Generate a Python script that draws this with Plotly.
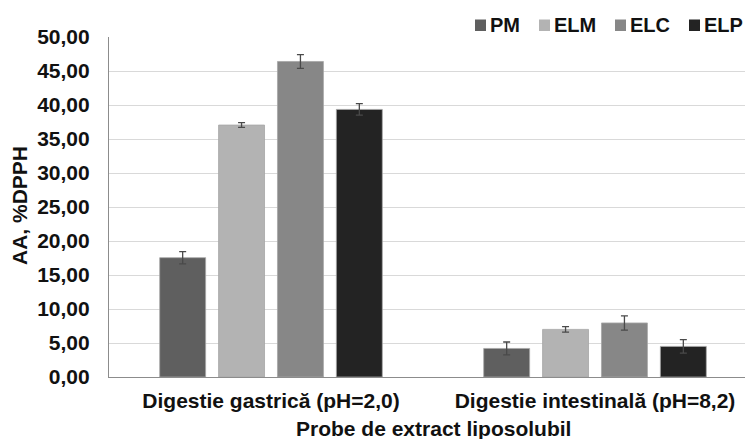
import plotly.graph_objects as go

categories = ["Digestie gastrică (pH=2,0)", "Digestie intestinală (pH=8,2)"]
series_names = ["PM", "ELM", "ELC", "ELP"]
pm = [17.55, 4.2]
elm = [37.05, 7.0]
elc = [46.4, 7.95]
elp = [39.35, 4.5]
pm_err = [0.9, 0.95]
elm_err = [0.35, 0.4]
elc_err = [1.0, 1.05]
elp_err = [0.85, 1.0]
colors = ["#5f5f5f", "#b3b3b3", "#878787", "#232323"]
y_ticks = [0, 5, 10, 15, 20, 25, 30, 35, 40, 45, 50]
y_tick_labels = ["0,00", "5,00", "10,00", "15,00", "20,00", "25,00", "30,00", "35,00", "40,00", "45,00", "50,00"]

values = [pm, elm, elc, elp]
errors = [pm_err, elm_err, elc_err, elp_err]

W, H = 745, 439
L, R, T, B = 109, 0, 37, 62
PW, PH = W - L - R, H - T - B

fig = go.Figure()
for name, v, e, c in zip(series_names, values, errors, colors):
    fig.add_trace(go.Bar(
        name=name, x=[0, 1], y=v,
        marker=dict(color=c, line=dict(color="#a6a6a6", width=0.8)),
        error_y=dict(type="data", array=e, visible=True, color="#4a4a4a", thickness=1.3, width=3.5),
        showlegend=False,
    ))

font = "Liberation Sans, Arial, sans-serif"
FS = 21
fig.update_layout(
    width=W, height=H,
    margin=dict(l=L, r=R, t=T, b=B, autoexpand=False),
    paper_bgcolor="white", plot_bgcolor="white",
    barmode="group", bargap=0.273, bargroupgap=0.22,
    font=dict(family=font, size=FS, color="#111111"),
    showlegend=False,
    xaxis=dict(range=[-0.5, -0.5 + PW / 324], tickmode="array", tickvals=[0, 1],
               ticktext=["<b>%s</b>" % c for c in categories],
               showline=True, linecolor="#8c8c8c", linewidth=1.2, ticks="",
               tickfont=dict(size=FS, family=font, color="#111111"), showgrid=False,
               zeroline=False, ticklabelstandoff=5),
    yaxis=dict(range=[0, 50], tickmode="array", tickvals=y_ticks,
               ticktext=["<b>%s</b>" % t for t in y_tick_labels],
               showline=True, linecolor="#8c8c8c", linewidth=1.2, ticks="",
               gridcolor="#d9d9d9", gridwidth=1.2, zeroline=False,
               tickfont=dict(size=FS, family=font, color="#111111"),
               ticklabelstandoff=14),
)

# axis titles
fig.add_annotation(text="<b>Probe de extract liposolubil</b>", x=0.5, xref="x",
                   y=-(429 - (T + PH)) / PH, yref="paper", showarrow=False,
                   font=dict(size=FS, family=font, color="#111111"), yanchor="middle")
fig.add_annotation(text="<b>AA, %DPPH</b>", x=(19 - L) / PW, xref="paper", xanchor="center",
                   y=(T + PH - 206) / PH, yref="paper", yanchor="middle", textangle=-90, showarrow=False,
                   font=dict(size=FS, family=font, color="#111111"))

# manual legend
LFS = 20
sq_x = [475, 539, 615, 689]
for name, c, sx in zip(series_names, colors, sq_x):
    x0 = (sx - L) / PW
    x1 = (sx + 11 - L) / PW
    y0 = (T + PH - 31) / PH
    y1 = (T + PH - 19.5) / PH
    fig.add_shape(type="rect", xref="paper", yref="paper", x0=x0, x1=x1, y0=y0, y1=y1,
                  fillcolor=c, line=dict(width=0))
    fig.add_annotation(text="<b>%s</b>" % name, xref="paper", yref="paper",
                       x=(sx + 13 - L) / PW, xanchor="left", y=(T + PH - 25) / PH, yanchor="middle",
                       showarrow=False, font=dict(size=LFS, family=font, color="#111111"))

fig.write_html("out.html")
